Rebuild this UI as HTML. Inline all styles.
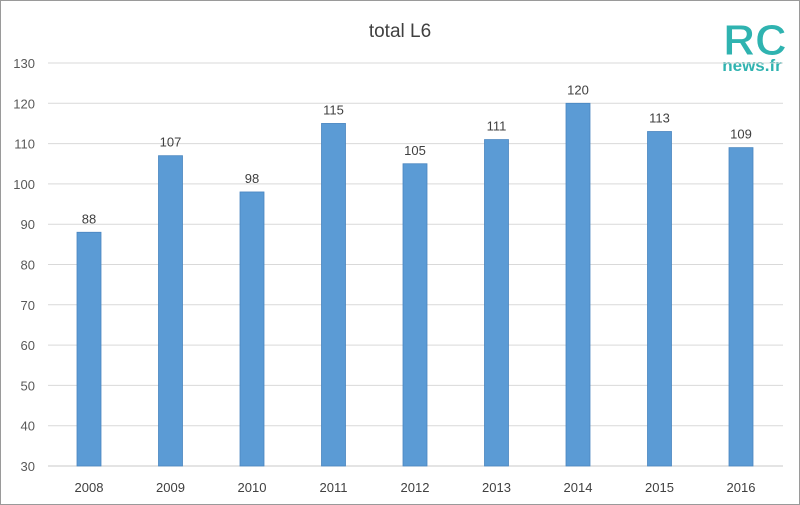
<!DOCTYPE html>
<html><head><meta charset="utf-8"><style>
body{margin:0;background:#fff}
svg{display:block;font-family:"Liberation Sans",sans-serif}
</style></head><body>
<svg id="c" width="800" height="505">
<rect x="0.5" y="0.5" width="799" height="504" fill="#fff" stroke="#9a9a9a"/>
<text x="400" y="37" font-size="19" text-anchor="middle" fill="#404040">total L6</text>
<g>
<rect x="712" y="12" width="84" height="62" fill="#fff"/>
<text x="755" y="55" font-size="44" font-weight="bold" text-anchor="middle" fill="#2fb3b0" stroke="#fff" stroke-width="1">RC</text>
<text x="752" y="71" font-size="17" font-weight="bold" text-anchor="middle" fill="#2fb3b0">news.fr</text>
</g>
<g id="grid"></g><g id="bars"></g>
</svg>
<script>
const categories=["2008","2009","2010","2011","2012","2013","2014","2015","2016"];
const values=[88,107,98,115,105,111,120,113,109];
const yTicks=[30,40,50,60,70,80,90,100,110,120,130];
const ns="http://www.w3.org/2000/svg";
const y=v=>466-(v-30)*4.03;
const x=i=>89+i*81.5;
const g=document.getElementById('grid'),b=document.getElementById('bars');
function mk(t,a,p){const e=document.createElementNS(ns,t);for(const k in a)e.setAttribute(k,a[k]);p.appendChild(e);return e;}
yTicks.forEach(v=>{
 const l=mk('line',{x1:48,x2:783,y1:y(v),y2:y(v),stroke:v===30?'#c8c8c8':'#d9d9d9','stroke-width':1},g);
 
 
 const t=mk('text',{x:35,y:y(v)+5,'font-size':13,'text-anchor':'end',fill:'#595959'},g);
 t.textContent=v;
 
 
});
categories.forEach((c,i)=>{
 const r=mk('rect',{x:x(i)-12,y:y(values[i]),width:24,height:y(30)-y(values[i]),fill:'#5b9bd5',stroke:'#4a86c0','stroke-width':0.8},b);
 
 
 const v=mk('text',{x:x(i),y:y(values[i])-9,'font-size':13,'text-anchor':'middle',fill:'#404040'},b);
 v.textContent=values[i];
 
 
 const t=mk('text',{x:x(i),y:492,'font-size':13,'text-anchor':'middle',fill:'#404040'},b);
 t.textContent=c;
 
 
});
</script>
</body></html>
